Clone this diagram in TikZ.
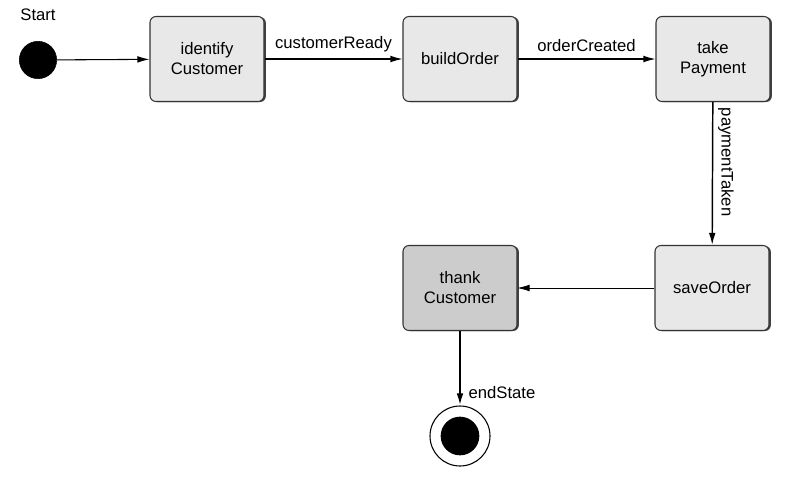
\documentclass[tikz,border=0pt]{standalone}
\usepackage{fontspec}
\setmainfont{Liberation Sans}
\usetikzlibrary{arrows.meta,shadows}

\begin{document}
\begin{tikzpicture}[x=0.75pt,y=0.75pt,yscale=-1,xscale=1,
	statebox/.style={draw=black!80, line width=0.8pt, rounded corners=4.5pt, fill=black!9, minimum width=85.5pt, minimum height=63.75pt, align=center, inner sep=0.75pt, font=\fontsize{12.5}{15}\selectfont, drop shadow={shadow xshift=1.4pt, shadow yshift=-0.4pt, fill=black!75, opacity=1}},
	flow/.style={-{Latex[length=9pt,width=5pt]}, line width=0.8pt},
	lbl/.style={inner sep=0.75pt, font=\fontsize{12.5}{15}\selectfont}]
	\useasboundingbox (0,0) rectangle (793,486);

	% Start
	\node (start) [circle, fill=black, draw=black, minimum size=28pt, inner sep=0pt] at (38,60) {};
	\node (startlbl) [lbl] at (38,15) {Start};

	% States
	\node (identify) [statebox] at (207,59) {identify\\Customer};
	\node (build) [statebox] at (460,59) {buildOrder};
	\node (take) [statebox] at (713,59) {take\\Payment};
	\node (save) [statebox] at (712,288) {saveOrder};
	\node (thank) [statebox, fill=black!20] at (460,288) {thank\\Customer};

	% End
	\node (endouter) [circle, draw=black, line width=0.8pt, fill=white, minimum size=45pt, inner sep=0pt] at (460,436) {};
	\node (endinner) [circle, fill=black, minimum size=29pt, inner sep=0pt] at (endouter) {};

	% Connections
	\draw [flow] (start) -- (identify);
	\draw [flow] (identify) -- node [lbl, above=4pt] {customerReady} (build);
	\draw [flow] (build) -- node [lbl, above=4pt] {orderCreated} (take);
	\draw [flow, line width=1.1pt] (take) -- node [lbl, right=3pt, pos=0.42, rotate=-90, anchor=south] {paymentTaken} (save);
	\draw [flow, line width=0.5pt] (save) -- (thank);
	\draw [flow, line width=1.5pt] (thank) -- node [lbl, pos=0.83, right=5pt] {endState} (endouter);

\end{tikzpicture}
\end{document}
